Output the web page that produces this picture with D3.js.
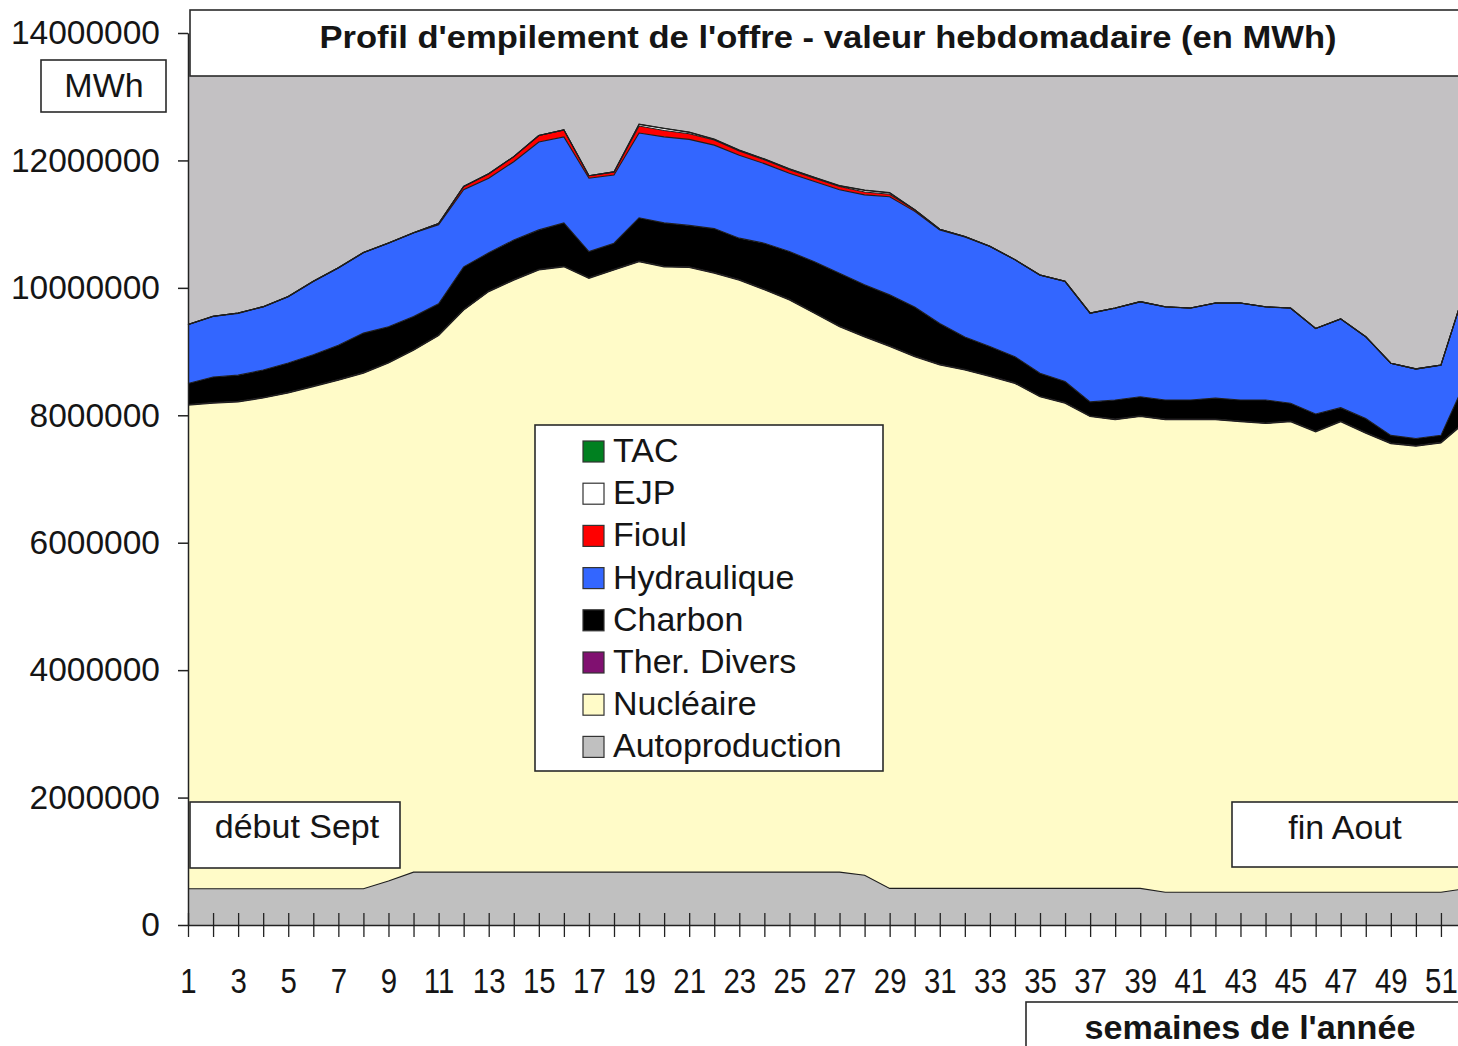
<!DOCTYPE html>
<html>
<head>
<meta charset="utf-8">
<script src="https://cdn.jsdelivr.net/npm/d3@7"></script>
<style>
body { margin: 0; background: #fff; }
text { font-family: "Liberation Sans", Arial, sans-serif; fill: #151515; }
</style>
</head>
<body>
<div id="chart"></div>
<script>
// weekly supply stack, in MWh
var weeks = [1,2,3,4,5,6,7,8,9,10,11,12,13,14,15,16,17,18,19,20,21,22,23,24,25,26,
             27,28,29,30,31,32,33,34,35,36,37,38,39,40,41,42,43,44,45,46,47,48,49,50,51,52];
var weekLabels = [1,3,5,7,9,11,13,15,17,19,21,23,25,27,29,31,33,35,37,39,41,43,45,47,49,51];
var yTicks = [0,2000000,4000000,6000000,8000000,10000000,12000000,14000000];

var autoproduction = [570000,570000,570000,570000,570000,570000,570000,570000,690000,830000,
  830000,830000,830000,830000,830000,830000,830000,830000,830000,830000,830000,830000,830000,830000,
  830000,830000,830000,780000,575000,575000,575000,575000,575000,575000,575000,575000,575000,575000,
  575000,515000,515000,515000,515000,515000,515000,515000,515000,515000,515000,515000,515000,570000];
var nucleaire = [7590000,7620000,7640000,7700000,7780000,7880000,7980000,8090000,8130000,8190000,
  8420000,8820000,9110000,9290000,9450000,9500000,9320000,9450000,9580000,9500000,9490000,9400000,
  9290000,9140000,8980000,8770000,8560000,8450000,8505000,8345000,8215000,8135000,8035000,7925000,
  7715000,7615000,7405000,7355000,7405000,7415000,7415000,7415000,7385000,7355000,7385000,7225000,
  7385000,7205000,7040000,7000000,7050000,7330000];
var therDivers = [10000,10000,10000,10000,10000,10000,10000,10000,10000,10000,10000,10000,10000,
  10000,10000,10000,10000,10000,10000,10000,10000,10000,10000,10000,10000,10000,10000,10000,10000,
  10000,10000,10000,10000,10000,10000,10000,10000,10000,10000,10000,10000,10000,10000,10000,10000,
  10000,10000,10000,10000,10000,10000,10000];
var charbon = [330000,400000,410000,430000,460000,490000,540000,620000,560000,520000,490000,670000,
  600000,620000,620000,680000,410000,410000,680000,680000,650000,690000,650000,720000,750000,800000,
  830000,810000,800000,770000,640000,510000,460000,410000,360000,330000,220000,300000,300000,300000,
  300000,330000,330000,360000,280000,270000,210000,220000,120000,110000,110000,640000];
var hydraulique = [920000,950000,970000,990000,1040000,1150000,1210000,1260000,1310000,1310000,
  1240000,1210000,1170000,1230000,1380000,1350000,1150000,1070000,1330000,1350000,1350000,1310000,
  1300000,1250000,1230000,1260000,1310000,1410000,1540000,1500000,1470000,1570000,1570000,1520000,
  1540000,1570000,1390000,1440000,1490000,1460000,1440000,1490000,1520000,1460000,1490000,1340000,
  1390000,1280000,1130000,1090000,1100000,1470000];
var fioul = [5000,5000,5000,5000,5000,5000,5000,5000,5000,5000,20000,50000,70000,80000,100000,
  110000,40000,50000,110000,100000,90000,80000,70000,60000,55000,50000,50000,45000,40000,25000,
  10000,5000,3000,3000,3000,3000,3000,3000,3000,3000,3000,3000,3000,3000,3000,3000,3000,3000,3000,
  3000,3000,3000];
var ejp = [0,0,0,0,0,0,0,0,0,0,0,0,0,0,0,0,0,0,25000,30000,20000,10000,10000,10000,10000,10000,
  10000,25000,20000,0,0,0,0,0,0,0,0,0,0,0,0,0,0,0,0,0,0,0,0,0,0,0];
var tac = [0,0,0,0,0,0,0,0,0,0,0,0,0,0,0,0,0,0,5000,5000,5000,5000,5000,5000,5000,5000,5000,5000,
  5000,0,0,0,0,0,0,0,0,0,0,0,0,0,0,0,0,0,0,0,0,0,0,0];

// bottom to top, as stacked by the spreadsheet
var series = [
  {key: "Autoproduction", values: autoproduction, color: "#c0c0c0"},
  {key: "Nucléaire", values: nucleaire, color: "#fffbc8"},
  {key: "Ther. Divers", values: therDivers, color: "#801070"},
  {key: "Charbon", values: charbon, color: "#000000"},
  {key: "Hydraulique", values: hydraulique, color: "#3366ff"},
  {key: "Fioul", values: fioul, color: "#ff0000"},
  {key: "EJP", values: ejp, color: "#ffffff"},
  {key: "TAC", values: tac, color: "#008020"}
];

var rows = weeks.map(function(w, i) {
  var r = {week: w};
  series.forEach(function(s) { r[s.key] = s.values[i]; });
  return r;
});

var W = 1458, H = 1046;
var svg = d3.select("#chart").append("svg")
  .attr("width", W).attr("height", H);

var x = d3.scalePoint().domain(weeks).range([188, 1466]);
var y = d3.scaleLinear().domain([0, 14000000]).range([925, 33]);

// grey plot area
svg.append("rect")
  .attr("x", 188).attr("y", y(14000000))
  .attr("width", x(52) - 188).attr("height", y(0) - y(14000000))
  .attr("fill", "#c3c1c3");

var stack = d3.stack().keys(series.map(function(s) { return s.key; }));
var layers = stack(rows);

var area = d3.area()
  .x(function(d) { return x(d.data.week); })
  .y0(function(d) { return y(d[0]); })
  .y1(function(d) { return y(d[1]); });
var topLine = d3.line()
  .x(function(d) { return x(d.data.week); })
  .y(function(d) { return y(d[1]); });

svg.selectAll(".layer")
  .data(layers)
  .enter().append("path")
  .attr("class", "layer")
  .attr("d", area)
  .attr("fill", function(d, i) { return series[i].color; });

svg.selectAll(".edge")
  .data(layers)
  .enter().append("path")
  .attr("class", "edge")
  .attr("d", topLine)
  .attr("fill", "none")
  .attr("stroke", "#1e1e1e")
  .attr("stroke-width", 1.1);

// axes
var yAxis = d3.axisLeft(y)
  .tickValues(yTicks)
  .tickFormat(d3.format("d"))
  .tickSize(10)
  .tickSizeOuter(0)
  .tickPadding(18);
var gy = svg.append("g")
  .attr("transform", "translate(188,0)")
  .call(yAxis);
gy.select(".domain").attr("stroke", "#222").attr("stroke-width", 1.5);
gy.selectAll("line").attr("stroke", "#222").attr("stroke-width", 1.5);
gy.selectAll("text").style("font-size", "33.5px").attr("fill", "#151515");

var xAxis = d3.axisBottom(x)
  .tickValues(weeks)
  .tickFormat(function(d) { return weekLabels.indexOf(d) >= 0 ? d : ""; })
  .tickSize(12)
  .tickSizeOuter(0);
var gx = svg.append("g")
  .attr("transform", "translate(0," + y(0) + ")")
  .call(xAxis);
gx.select(".domain").attr("stroke", "#222").attr("stroke-width", 1.5);
gx.selectAll(".tick line")
  .attr("y1", -12).attr("y2", 12)
  .attr("stroke", "#222").attr("stroke-width", 1.3);
gx.selectAll(".tick text")
  .attr("y", 68).attr("dy", 0)
  .attr("transform", "scale(0.84,1)")
  .style("font-size", "35px")
  .attr("fill", "#151515");

// boxed labels
function box(x0, y0, w, h, label, tx, ty, size, bold, len) {
  svg.append("rect")
    .attr("x", x0).attr("y", y0).attr("width", w).attr("height", h)
    .attr("fill", "#fff").attr("stroke", "#2a2a2a").attr("stroke-width", 1.6);
  var t = svg.append("text")
    .attr("x", tx).attr("y", ty)
    .attr("text-anchor", "middle")
    .style("font-size", size + "px")
    .style("font-weight", bold ? "bold" : "normal")
    .text(label);
  if (len) t.attr("textLength", len).attr("lengthAdjust", "spacingAndGlyphs");
}

box(190, 10, 1300, 66, "Profil d'empilement de l'offre  - valeur hebdomadaire (en MWh)",
    828, 48, 32, true, 1017);
box(41, 60, 125, 52, "MWh", 104, 97, 34, false);
box(190, 802, 210, 66, "début Sept", 297, 838, 34, false);
box(1232, 802, 260, 65, "fin Aout", 1345, 839, 34, false);
box(1026, 1002, 460, 60, "semaines de l'année", 1250, 1039, 33, true, 331);

// legend
var legend = svg.append("g");
legend.append("rect")
  .attr("x", 535).attr("y", 425).attr("width", 348).attr("height", 346)
  .attr("fill", "#fff").attr("stroke", "#2a2a2a").attr("stroke-width", 1.6);

var legendItems = series.slice().reverse();
var li = legend.selectAll(".item")
  .data(legendItems)
  .enter().append("g")
  .attr("class", "item")
  .attr("transform", function(d, i) { return "translate(0," + (462 + i * 42.2) + ")"; });
li.append("rect")
  .attr("x", 583).attr("y", -21).attr("width", 21).attr("height", 21)
  .attr("fill", function(d) { return d.color; })
  .attr("stroke", "#333").attr("stroke-width", 1.2);
li.append("text")
  .attr("x", 613).attr("y", 0)
  .style("font-size", "34px")
  .text(function(d) { return d.key; });
</script>
</body>
</html>
